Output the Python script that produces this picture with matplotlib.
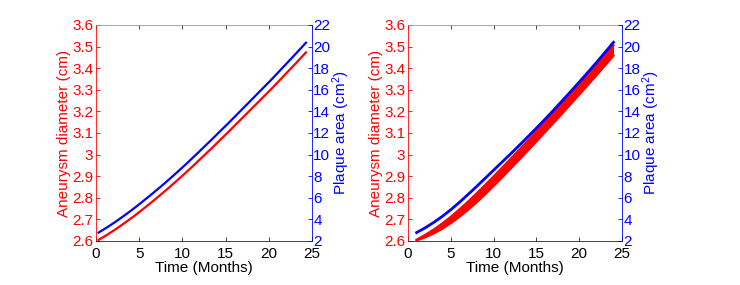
import matplotlib
matplotlib.use("Agg")
import matplotlib.pyplot as plt

plt.rcParams['font.family'] = ['Liberation Sans', 'DejaVu Sans']
plt.rcParams['mathtext.fontset'] = 'custom'
plt.rcParams['mathtext.rm'] = 'Liberation Sans'
plt.rcParams['mathtext.it'] = 'Liberation Sans'

# left panel: single run
t_left = [0.3, 1.3, 2.3, 3.3, 4.3, 5.3, 6.3, 7.3, 8.3, 9.3, 10.3, 11.3, 12.3,
          13.3, 14.3, 15.3, 16.3, 17.3, 18.3, 19.3, 20.3, 21.3, 22.3, 23.3, 24.3]
diam_left = [2.605, 2.629, 2.655, 2.683, 2.712, 2.743, 2.775, 2.808, 2.842, 2.877,
             2.913, 2.950, 2.988, 3.026, 3.065, 3.104, 3.144, 3.184, 3.224, 3.264,
             3.304, 3.346, 3.388, 3.430, 3.473]
plaque_left = [2.78, 3.27, 3.80, 4.37, 4.96, 5.59, 6.24, 6.90, 7.59, 8.30,
               9.03, 9.78, 10.55, 11.32, 12.11, 12.89, 13.70, 14.51, 15.32, 16.13,
               16.94, 17.79, 18.64, 19.49, 20.36]

# right panel: spread of runs (lower / upper envelope of diameter)
t_right = list(range(1, 25))
diam_low = [2.603, 2.617, 2.635, 2.657, 2.683, 2.712, 2.744, 2.779, 2.816, 2.855,
            2.895, 2.936, 2.977, 3.019, 3.061, 3.104, 3.147, 3.190, 3.234, 3.278,
            3.322, 3.367, 3.412, 3.458]
diam_high = [2.606, 2.628, 2.653, 2.681, 2.712, 2.746, 2.782, 2.820, 2.859, 2.899,
             2.940, 2.981, 3.023, 3.065, 3.107, 3.150, 3.193, 3.236, 3.280, 3.324,
             3.369, 3.414, 3.459, 3.505]
plaque_right = [2.78, 3.22, 3.72, 4.28, 4.90, 5.58, 6.30, 7.04, 7.80, 8.56,
                9.32, 10.08, 10.86, 11.65, 12.45, 13.27, 14.11, 14.97, 15.84, 16.72,
                17.61, 18.52, 19.45, 20.40]

xticks = [0, 5, 10, 15, 20, 25]
diam_ticks = [2.6, 2.7, 2.8, 2.9, 3.0, 3.1, 3.2, 3.3, 3.4, 3.5, 3.6]
diam_labels = ['2.6', '2.7', '2.8', '2.9', '3', '3.1', '3.2', '3.3', '3.4', '3.5', '3.6']
plaque_ticks = [2, 4, 6, 8, 10, 12, 14, 16, 18, 20, 22]

RED = '#ff0000'
BLUE = '#0000ff'
FS = 11


def setup(ax1, ax2):
    ax1.set_xlim(0, 25)
    ax1.set_ylim(2.6, 3.6)
    ax2.set_ylim(2, 22)
    ax1.set_xticks(xticks)
    ax1.set_yticks(diam_ticks)
    ax1.set_yticklabels(diam_labels)
    ax2.set_yticks(plaque_ticks)
    ax1.tick_params(axis='x', direction='in', top=True, length=3, width=0.6,
                    colors='#222222', labelsize=FS, pad=4, labelcolor='black')
    ax1.tick_params(axis='y', direction='in', length=3, width=0.6,
                    colors=RED, labelsize=FS, pad=2)
    ax2.tick_params(axis='y', direction='in', length=3, width=0.6,
                    colors=BLUE, labelsize=FS, pad=1)
    for s in ['left', 'right', 'top', 'bottom']:
        ax1.spines[s].set_linewidth(0.6)
        ax2.spines[s].set_linewidth(0.6)
    ax1.spines['left'].set_color(RED)
    ax1.spines['right'].set_visible(False)
    ax1.spines['top'].set_color('#999999')
    ax1.spines['bottom'].set_color('#222222')
    ax2.spines['left'].set_visible(False)
    ax2.spines['top'].set_visible(False)
    ax2.spines['bottom'].set_visible(False)
    ax2.spines['right'].set_color(BLUE)
    ax1.set_xlabel('Time (Months)', fontsize=FS, labelpad=0)
    ax1.set_ylabel('Aneurysm diameter (cm)', color=RED, fontsize=FS, labelpad=1)
    ax2.set_ylabel('Plaque area (cm$^2$)', color=BLUE, fontsize=FS, labelpad=0)


fig = plt.figure(figsize=(7.4, 2.85), dpi=100)

axL = fig.add_axes([0.1297, 0.1544, 0.2919, 0.7579])
axL2 = axL.twinx()
axL.plot(t_left, diam_left, color=RED, lw=1.6)
axL2.plot(t_left, plaque_left, color=BLUE, lw=1.6)
setup(axL, axL2)

axR = fig.add_axes([0.5514, 0.1544, 0.2892, 0.7579])
axR2 = axR.twinx()
axR.fill_between(t_right, diam_low, diam_high, color=RED, lw=0)
axR.plot(t_right, diam_low, color=RED, lw=1.6)
axR.plot(t_right, diam_high, color=RED, lw=1.6)
axR2.plot(t_right, plaque_right, color=BLUE, lw=2.0)
setup(axR, axR2)

fig.savefig('out.png', dpi=100)
